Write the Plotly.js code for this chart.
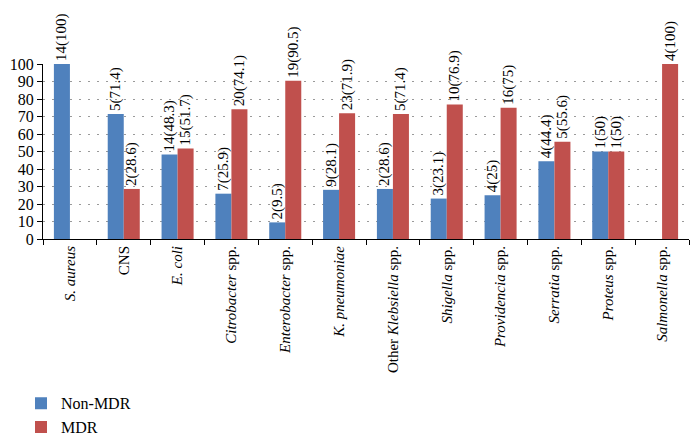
<!DOCTYPE html>
<html>
<head>
<meta charset="utf-8">
<script src="https://cdn.plot.ly/plotly-3.0.1.min.js"></script>
<style>html,body{margin:0;padding:0;background:#fff;}#chart{width:700px;height:439px;}</style>
</head>
<body>
<div id="chart"></div>
<script>
const categories = [
  "<i>S. aureus</i>", "CNS", "<i>E. coli</i>", "<i>Citrobacter</i> spp.",
  "<i>Enterobacter</i> spp.", "<i>K. pneumoniae</i>", "Other <i>Klebsiella</i> spp.",
  "<i>Shigella</i> spp.", "<i>Providencia</i> spp.", "<i>Serratia</i> spp.",
  "<i>Proteus</i> spp.", "<i>Salmonella</i> spp."
];
const nonMdrCount = [14, 5, 14, 7, 2, 9, 2, 3, 4, 4, 1, null];
const nonMdrPct   = [100, 71.4, 48.3, 25.9, 9.5, 28.1, 28.6, 23.1, 25, 44.4, 50, null];
const mdrCount    = [null, 2, 15, 20, 19, 23, 5, 10, 16, 5, 1, 4];
const mdrPct      = [null, 28.6, 51.7, 74.1, 90.5, 71.9, 71.4, 76.9, 75, 55.6, 50, 100];
const yTicks = [0, 10, 20, 30, 40, 50, 60, 70, 80, 90, 100];

const label = (c, p) => c.map((v, i) => v == null ? "" : v + "(" + p[i] + ")");

const serif = "Liberation Serif, Times New Roman, serif";
const textFont = {family: serif, size: 15, color: "#000"};

const traces = [
  {
    type: "bar", name: "Non-MDR", x: categories, y: nonMdrPct,
    text: label(nonMdrCount, nonMdrPct), textposition: "outside", textangle: -90,
    textfont: textFont, constraintext: "none", cliponaxis: false,
    marker: {color: "#4F81BD"}, hoverinfo: "none"
  },
  {
    type: "bar", name: "MDR", x: categories, y: mdrPct,
    text: label(mdrCount, mdrPct), textposition: "outside", textangle: -90,
    textfont: textFont, constraintext: "none", cliponaxis: false,
    marker: {color: "#C0504D"}, hoverinfo: "none"
  }
];

const layout = {
  width: 700, height: 439,
  margin: {l: 43, r: 11, t: 64, b: 200, autoexpand: false},
  paper_bgcolor: "#fff", plot_bgcolor: "#fff",
  barmode: "group", bargap: 0.405, bargroupgap: 0,
  showlegend: true,
  legend: {
    orientation: "v", xref: "container", yref: "container",
    x: 0.03, xanchor: "left", y: 0.12, yanchor: "top",
    font: {family: serif, size: 16, color: "#000"}, tracegroupgap: 0,
    itemwidth: 30, bgcolor: "rgba(0,0,0,0)"
  },
  xaxis: {
    type: "category", tickangle: -90, tickfont: {family: serif, size: 15, color: "#000"},
    ticks: "outside", tickson: "boundaries", ticklen: 5, tickcolor: "#000",
    showline: true, linecolor: "#000", linewidth: 1, showgrid: false, zeroline: false,
    fixedrange: true
  },
  yaxis: {
    range: [0, 100], tickvals: yTicks, ticktext: yTicks.map(String),
    tickfont: {family: serif, size: 16, color: "#000"},
    ticks: "outside", ticklen: 5, tickcolor: "#000",
    showline: true, linecolor: "#000", linewidth: 1,
    showgrid: true, gridcolor: "#9a9a9a", gridwidth: 1, griddash: "1.5px,7.5px",
    zeroline: false, fixedrange: true
  }
};

Plotly.newPlot("chart", traces, layout, {displayModeBar: false, staticPlot: true});
</script>
</body>
</html>
